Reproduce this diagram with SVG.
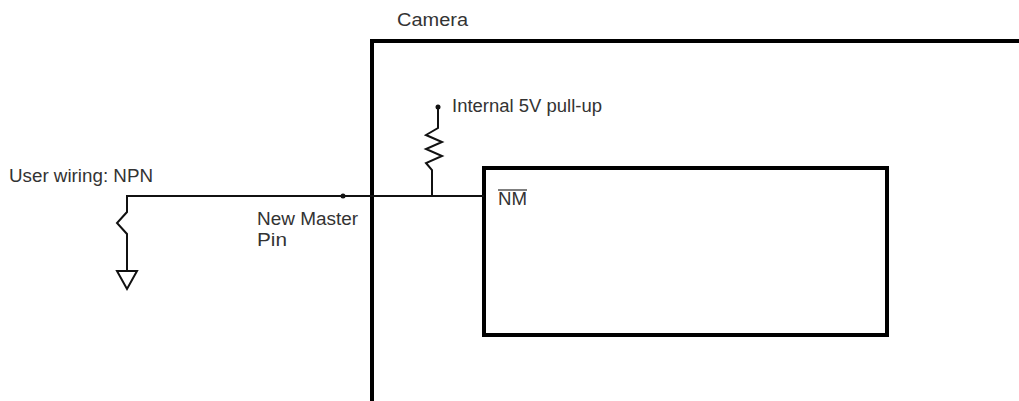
<svg xmlns="http://www.w3.org/2000/svg" width="1019" height="401" viewBox="0 0 1019 401">
<style>
.t{font-family:"Liberation Sans",Arial,sans-serif;fill:#333;font-size:17.5px}
.w{fill:none;stroke:#111;stroke-width:2;stroke-linejoin:miter}
.b{fill:none;stroke:#000;stroke-width:4}
</style>
<rect width="1019" height="401" fill="#fff"/>
<g id="camera">
<path class="b" d="M372 401V41H1025"/>
<text class="t" x="397" y="26" font-size="19" textLength="71" lengthAdjust="spacingAndGlyphs">Camera</text>
</g>
<g id="nm-block">
<rect class="b" x="484" y="168" width="403" height="167"/>
<text class="t" x="498" y="205" fill="#555" font-size="18" textLength="29" lengthAdjust="spacingAndGlyphs">NM</text>
<line x1="498" y1="190" x2="527" y2="190" stroke="#555" stroke-width="1.5"/>
</g>
<g id="pullup">
<path class="w" d="M432 196V170L426 163L442 156L426 149L442 142L426 135L438 128V108"/>
<circle cx="438" cy="107" r="2.5" fill="#111"/>
<text class="t" x="452" y="112" textLength="150" lengthAdjust="spacingAndGlyphs">Internal 5V pull-up</text>
</g>
<g id="npn">
<path class="w" d="M127 197V212L117 223L127 234V271"/>
<path class="w" d="M117 271H137L127 289Z"/>
<text class="t" x="9" y="182" textLength="144" lengthAdjust="spacingAndGlyphs">User wiring: NPN</text>
</g>
<g id="pin">
<circle cx="343" cy="196" r="2.5" fill="#111"/>
<text class="t" x="257" y="225" textLength="101" lengthAdjust="spacingAndGlyphs">New Master</text>
<text class="t" x="257" y="246" textLength="30" lengthAdjust="spacingAndGlyphs">Pin</text>
</g>
<g id="connectors">
<path class="w" d="M126 196H484"/>
</g>
</svg>
